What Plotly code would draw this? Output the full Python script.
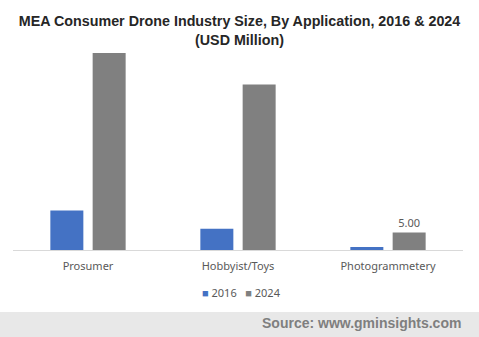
import plotly.graph_objects as go

categories = ["Prosumer", "Hobbyist/Toys", "Photogrammetery"]
values_2016 = [11.3, 6.1, 0.85]
values_2024 = [56.3, 47.3, 5.00]
labels_2024 = ["", "", "5.00"]
series_names = ["2016", "2024"]
series_colors = ["#4472C4", "#808080"]

W, H = 479, 337
ML, MR, MT, MB = 13, 16, 40, 87
plot_h = H - MT - MB
plot_w = W - ML - MR
base_px = MT + plot_h


def py(px):
    """Pixel row from the top of the page -> paper y coordinate."""
    return (base_px - px) / plot_h


def pxx(px):
    """Pixel column from the left of the page -> paper x coordinate."""
    return (px - ML) / plot_w


fig = go.Figure()
fig.add_trace(go.Bar(
    x=categories, y=values_2016, name=series_names[0],
    marker=dict(color=series_colors[0], line=dict(width=0)),
))
fig.add_trace(go.Bar(
    x=categories, y=values_2024, name=series_names[1],
    marker=dict(color=series_colors[1], line=dict(width=0)),
    text=labels_2024, textposition="outside",
    textfont=dict(family="Noto Sans, Arial, sans-serif", size=11, color="#595959"),
    cliponaxis=False,
))

# grey source band across the bottom of the page
fig.add_shape(
    type="rect", xref="paper", yref="paper",
    x0=pxx(0), x1=pxx(W), y0=py(H), y1=py(312),
    fillcolor="#e8e8e8", line=dict(width=0), layer="below",
)
fig.add_annotation(
    text="<b>Source: www.gminsights.com</b>",
    xref="paper", yref="paper",
    x=pxx(463), y=py(323),
    xanchor="right", yanchor="middle", showarrow=False,
    font=dict(family="Liberation Sans, Arial, sans-serif", size=14, color="#7f7f7f"),
)

# compact legend row
legend_text = "   ".join(
    f"<span style='color:{c}'>■</span> {n}" for n, c in zip(series_names, series_colors)
)
fig.add_annotation(
    text=legend_text,
    xref="paper", yref="paper",
    x=pxx(241), y=py(292),
    xanchor="center", yanchor="middle", showarrow=False,
    font=dict(family="Noto Sans, Arial, sans-serif", size=11, color="#595959"),
)

fig.update_layout(
    width=W, height=H,
    margin=dict(l=ML, r=MR, t=MT, b=MB),
    paper_bgcolor="white", plot_bgcolor="white",
    title=dict(
        text="<b>MEA Consumer Drone Industry Size, By Application, 2016 & 2024<br>(USD Million)</b>",
        x=0.5, xanchor="center", xref="container",
        y=1 - 26 / H, yanchor="middle", yref="container",
        font=dict(family="Liberation Sans, Arial, sans-serif", size=14.3, color="#262626"),
    ),
    barmode="group", bargap=0.436, bargroupgap=0.22,
    showlegend=False,
    xaxis=dict(
        showline=True, linecolor="#d9d9d9", linewidth=1,
        ticks="", showgrid=False, ticklabelstandoff=6,
        tickfont=dict(family="Noto Sans, Arial, sans-serif", size=11, color="#595959"),
    ),
    yaxis=dict(range=[0, 60], visible=False, showgrid=False),
)

fig.write_html("out.html")
